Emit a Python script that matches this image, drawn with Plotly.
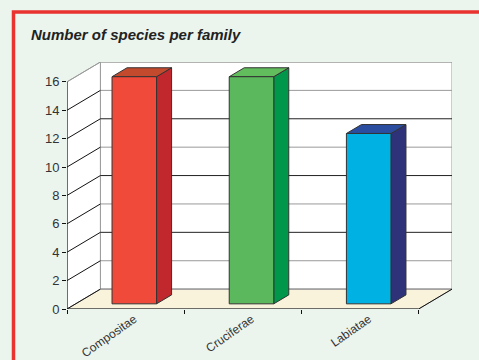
import plotly.graph_objects as go

categories = ["Compositae", "Cruciferae", "Labiatae"]
values = [16, 16, 12]
y_ticks = [0, 2, 4, 6, 8, 10, 12, 14, 16]
front_colors = ["#F04A3A", "#5CB85C", "#00B1E4"]
side_colors = ["#C0282E", "#00974A", "#2E3279"]
top_colors = ["#C44A2E", "#62BD5C", "#2B4DA0"]
title_text = "Number of species per family"

# 3D projection parameters (in data units)
DX = 0.285   # depth shift in category units
DY = 1.4     # depth shift in value units
F0, F1 = 0.26, 0.71  # bar front / back depth fractions
HW = 0.19    # bar half width
YMAX = max(y_ticks)
n = len(categories)
xl, xr = -0.5, n - 0.5

BG = "#EBF5EE"
fig = go.Figure()

def poly(xs, ys, fill, line="#333333", width=1):
    fig.add_trace(go.Scatter(x=xs + [xs[0]], y=ys + [ys[0]], mode="lines", fill="toself",
                             fillcolor=fill, line=dict(color=line, width=width),
                             hoverinfo="skip", showlegend=False))

def seg(xs, ys, color, width=1):
    fig.add_trace(go.Scatter(x=xs, y=ys, mode="lines", line=dict(color=color, width=width),
                             hoverinfo="skip", showlegend=False))

# back wall
poly([xl + DX, xr + DX, xr + DX, xl + DX], [DY, DY, YMAX + DY, YMAX + DY], "white", "#9A9A9A")
# left wall
poly([xl, xl + DX, xl + DX, xl], [0, DY, YMAX + DY, YMAX], "white", "#9A9A9A")
# floor
poly([xl, xr, xr + DX, xl + DX], [0, 0, DY, DY], "#FAF3DC", "#9A9A9A")

# gridlines
for i, v in enumerate(y_ticks):
    col = "#9A9A9A" if (v // 2) % 2 == 1 or v == YMAX or v == 0 else "#222222"
    seg([xl + DX, xr + DX], [v + DY, v + DY], col)
    seg([xl, xl + DX], [v, v + DY], "#9A9A9A" if v == YMAX else "#111111")

# front axis, floor edges
seg([xl, xl], [0, YMAX], "#111111")
seg([xl, xr, xr + DX], [0, 0, DY], "#111111")

# bars
for i, v in enumerate(values):
    c = i
    x0f, x1f = c - HW + F0 * DX, c + HW + F0 * DX
    x0b, x1b = c - HW + F1 * DX, c + HW + F1 * DX
    yf, yb = F0 * DY, F1 * DY
    poly([x1f, x1b, x1b, x1f], [yf, yb, v + yb, v + yf], side_colors[i])
    poly([x0f, x1f, x1b, x0b], [v + yf, v + yf, v + yb, v + yb], top_colors[i])
    poly([x0f, x1f, x1f, x0f], [yf, yf, v + yf, v + yf], front_colors[i])

fig.update_layout(
    width=479, height=360, autosize=False,
    margin=dict(l=67, r=27, t=62, b=51, autoexpand=False),
    paper_bgcolor=BG, plot_bgcolor=BG,
    title=dict(text=title_text, x=31 / 479, xanchor="left", xref="container",
               y=1 - 29 / 360, yanchor="top", yref="container", automargin=False,
               font=dict(family="Liberation Sans, Arial", size=15, color="#222222",
                         weight="bold", style="italic")),
    xaxis=dict(range=[xl, xr + DX], showgrid=False, zeroline=False, showline=False,
               automargin=False,
               tickmode="array", tickvals=[i + F0 * DX for i in range(n)], ticktext=categories,
               tickangle=-35, ticks="",
               minor=dict(ticks="outside", tick0=0.5, dtick=1, ticklen=4, tickcolor="#111111", showgrid=False),
               tickfont=dict(family="Liberation Sans, Arial", size=12, color="#333333"), fixedrange=True),
    yaxis=dict(range=[0, YMAX + DY], showgrid=False, zeroline=False, showline=False,
               automargin=False,
               tickmode="array", tickvals=y_ticks, ticks="outside", ticklen=4, tickcolor="#111111",
               tickfont=dict(family="Liberation Sans, Arial", size=13, color="#333333"), fixedrange=True),
    shapes=[dict(type="rect", xref="paper", yref="paper", x0=(13.5 - 67) / 385, x1=1.3,
                 y0=-0.6, y1=(309 - 12) / 247, line=dict(color="#E8332E", width=3.5),
                 fillcolor="rgba(0,0,0,0)", layer="above")],
)

fig.write_html("out.html")
